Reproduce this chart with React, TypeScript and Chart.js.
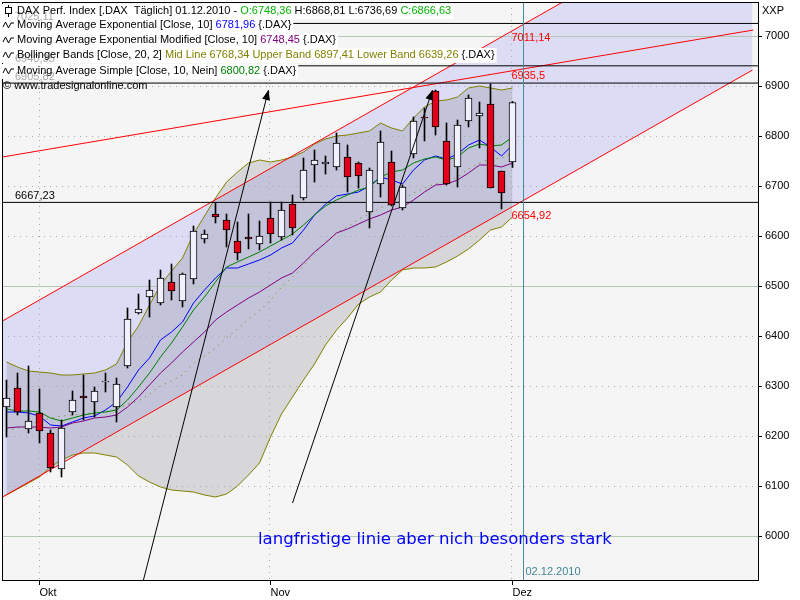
import React, { useEffect, useRef } from 'react';
import { Chart, registerables } from 'chart.js';

Chart.register(...registerables);

// ---------- data ----------
const opens = [6258,6296,6214,6246,6206,6134,6248,6280,6268,6308,6258,6340,6446,6478,6466,6508,6470,6514,6594,6644,6632,6590,6598,6584,6636,6598,6664,6676,6742,6744,6738,6758,6746,6648,6704,6748,6656,6764,6838,6890,6790,6738,6830,6840,6864,6730,6748];
const highs = [6312,6326,6340,6294,6212,6232,6290,6322,6298,6326,6316,6456,6484,6512,6532,6544,6526,6620,6612,6666,6644,6628,6644,6630,6668,6668,6682,6756,6772,6760,6806,6782,6748,6736,6810,6770,6702,6838,6856,6892,6826,6832,6882,6868,6904,6730,6869];
const lows = [6198,6242,6206,6186,6128,6118,6242,6232,6238,6288,6228,6336,6444,6438,6462,6472,6458,6504,6586,6626,6578,6552,6574,6572,6586,6592,6602,6672,6708,6724,6732,6688,6696,6616,6678,6660,6652,6756,6790,6802,6702,6698,6818,6776,6696,6654,6737];
const closes = [6276,6248,6230,6210,6136,6216,6272,6276,6290,6310,6304,6434,6454,6492,6516,6490,6524,6610,6604,6638,6612,6566,6594,6600,6604,6652,6616,6732,6752,6748,6786,6718,6720,6732,6788,6662,6698,6830,6836,6818,6704,6822,6876,6846,6696,6686,6867];

const emaValues = [6248,6248,6246,6240,6222,6220,6228,6236,6240,6252,6268,6298,6332,6356,6392,6408,6428,6466,6492,6516,6536,6536,6544,6552,6562,6576,6586,6612,6642,6664,6680,6684,6688,6700,6718,6712,6704,6732,6752,6760,6754,6764,6782,6792,6778,6760,6782];
const smaValues = [6254,6250,6250,6248,6236,6230,6236,6242,6246,6248,6252,6272,6298,6326,6358,6386,6418,6452,6478,6508,6538,6548,6558,6568,6580,6592,6604,6622,6642,6660,6672,6682,6692,6698,6718,6728,6732,6746,6754,6758,6752,6758,6776,6784,6780,6782,6798];
const emaModValues = [6216,6218,6218,6218,6216,6218,6226,6230,6236,6238,6242,6258,6278,6302,6326,6346,6368,6388,6408,6432,6448,6462,6476,6488,6502,6516,6526,6546,6568,6586,6606,6614,6624,6634,6642,6652,6658,6672,6688,6702,6704,6712,6726,6742,6742,6738,6746];
const bbMid = [6210,6216,6222,6230,6236,6240,6242,6244,6246,6248,6252,6264,6270,6284,6300,6310,6322,6346,6360,6376,6396,6414,6434,6450,6472,6498,6518,6540,6564,6588,6606,6618,6634,6644,6656,6664,6672,6686,6696,6704,6710,6718,6734,6746,6754,6756,6766];
const bbUpper = [6348,6338,6330,6328,6326,6322,6322,6324,6326,6332,6344,6388,6420,6462,6502,6530,6556,6604,6640,6676,6708,6728,6746,6752,6748,6752,6758,6768,6784,6794,6800,6802,6806,6810,6826,6816,6810,6836,6858,6870,6872,6878,6896,6900,6896,6892,6896];
const bbLower = [6082,6094,6106,6118,6138,6152,6162,6166,6166,6162,6158,6142,6120,6108,6098,6092,6090,6088,6082,6078,6084,6100,6122,6146,6198,6244,6278,6312,6344,6382,6412,6436,6464,6478,6488,6512,6532,6536,6536,6538,6548,6560,6574,6592,6612,6618,6638];

// trend lines (bar index, value)
const channelUpper = [{ x: -0.364, y: 6430 }, { x: 67.82, y: 7284 }];
const channelLower = [{ x: -0.364, y: 6078 }, { x: 67.82, y: 6932 }];
const channelMiddle = [{ x: -0.364, y: 6758 }, { x: 67.9, y: 7012 }];
const channelLabelValues = [7011.14, 6935.5, 6654.92];
const hLineValues = [7025.11, 6940.35, 6905.82, 6667.23];
const arrow1 = [{ x: 12.45, y: 5912 }, { x: 23.82, y: 6892 }];
const arrow2 = [{ x: 26.0, y: 6066 }, { x: 38.73, y: 6892 }];
const cursorIndex = 47;
const cursorLabel = '02.12.2010';

const monthTicks = [3, 24, 46];
const monthLabels = ['Okt', 'Nov', 'Dez'];
const yTicks = [6000, 6100, 6200, 6300, 6400, 6500, 6600, 6700, 6800, 6900, 7000];
const Y_MIN = 5912;
const Y_MAX = 7068;
const X_MIN = -4.5 / 11;
const X_MAX = X_MIN + 756 / 11;

const legendRows: [string, string][][] = [
  [['DAX Perf. Index [.DAX  Täglich] 01.12.2010 - ', '#000'], ['O:6748,36', '#00b400'], [' H:6868,81 L:6736,69 ', '#000'], ['C:6866,63', '#00b400']],
  [['Moving Average Exponential [Close, 10] ', '#000'], ['6781,96', '#0000ff'], [' {.DAX}', '#000']],
  [['Moving Average Exponential Modified [Close, 10] ', '#000'], ['6748,45', '#800080'], [' {.DAX}', '#000']],
  [['Bollinger Bands [Close, 20, 2] ', '#000'], ['Mid Line 6768,34 Upper Band 6897,41 Lower Band 6639,26', '#808000'], [' {.DAX}', '#000']],
  [['Moving Average Simple [Close, 10, Nein] ', '#000'], ['6800,82', '#008000'], [' {.DAX}', '#000']],
];
const copyrightText = '© www.tradesignalonline.com';
const noteText = 'langfristige linie aber nich besonders stark';

const FONT = '"Liberation Sans", Arial, sans-serif';
Chart.defaults.font.family = FONT;
Chart.defaults.font.size = 11;
Chart.defaults.color = '#000';

const pts = (arr: number[]) => arr.map((v, i) => ({ x: i, y: v }));
const comma = (v: number) => String(v).replace('.', ',');

function line(data: any[], color: string, order: number, extra: any = {}) {
  return {
    type: 'line', data, borderColor: color, borderWidth: 1, pointRadius: 0,
    fill: false, tension: 0, order, ...extra,
  };
}

const zeroPad = (s: any) => { s.paddingTop = 0; s.paddingBottom = 0; s.paddingLeft = 0; s.paddingRight = 0; };

export default function App() {
  const ref = useRef<HTMLCanvasElement>(null);

  useEffect(() => {
    const canvas = ref.current!;
    const TRANSP = 'rgba(0,0,0,0)';

    const datasets: any[] = [
      line(channelUpper, TRANSP, 105, { borderWidth: 0 }),
      line(channelLower, TRANSP, 104, { borderWidth: 0, fill: '-1', backgroundColor: '#dcdcf5' }),
      line(pts(bbUpper), TRANSP, 95, { borderWidth: 0 }),
      line(pts(bbLower), TRANSP, 94, { borderWidth: 0, fill: '-1', backgroundColor: 'rgba(95,95,110,0.2)' }),
      line(pts(bbUpper), '#808000', 80),
      line(pts(bbLower), '#808000', 80),
      line(pts(bbMid), '#808000', 70, { borderDash: [1, 5] }),
      line(pts(emaModValues), '#800080', 60),
      line(pts(smaValues), '#008000', 60),
      line(pts(emaValues), '#0000ff', 60),
      line(channelUpper, '#ff0000', 50),
      line(channelMiddle, '#ff0000', 50),
      line(channelLower, '#ff0000', 50),
      ...hLineValues.map((v) => line([{ x: X_MIN, y: v }, { x: X_MAX, y: v }], '#000', 45)),
      line([{ x: cursorIndex, y: Y_MIN - 50 }, { x: cursorIndex, y: Y_MAX + 50 }], '#4a8c9c', 44),
      {
        type: 'bar', order: 20, grouped: false, barThickness: 1, borderWidth: 0,
        backgroundColor: '#000',
        data: highs.map((h, i) => ({ x: i, y: [lows[i], h] })),
      },
      {
        type: 'bar', order: 10, grouped: false, barThickness: 7, borderWidth: 1,
        borderSkipped: false, borderColor: '#000',
        backgroundColor: opens.map((o, i) => (closes[i] >= o ? '#f0f0fe' : '#e2001a')),
        data: opens.map((o, i) => ({ x: i, y: [o, closes[i]] })),
      },
      line(arrow1, '#000', 5),
      line(arrow2, '#000', 5),
    ];

    const bgPlugin = {
      id: 'bg',
      beforeDraw(chart: any) {
        const { ctx, chartArea: a } = chart;
        ctx.save();
        ctx.fillStyle = '#fff';
        ctx.fillRect(0, 0, chart.width, chart.height);
        ctx.fillStyle = '#f5f5f5';
        ctx.fillRect(a.left, a.top, a.right - a.left, a.bottom - a.top);
        ctx.restore();
      },
    };

    const gridPlugin = {
      id: 'grid',
      afterDatasetDraw(chart: any, args: any) {
        if (args.index !== 3) return;
        const { ctx, chartArea: a, scales } = chart;
        const xs = scales.x, ys = scales.y;
        ctx.save();
        ctx.lineWidth = 1;
        yTicks.forEach((v) => {
          const py = Math.round(ys.getPixelForValue(v)) + 0.5;
          if (v % 500 === 0) { ctx.setLineDash([]); ctx.strokeStyle = '#b3c7b3'; }
          else { ctx.setLineDash([1, 5]); ctx.strokeStyle = '#a9a9a9'; }
          ctx.beginPath(); ctx.moveTo(a.left, py); ctx.lineTo(a.right, py); ctx.stroke();
        });
        ctx.setLineDash([1, 5]); ctx.strokeStyle = '#a9a9a9';
        monthTicks.forEach((t) => {
          const px = Math.round(xs.getPixelForValue(t)) - 0.5;
          ctx.beginPath(); ctx.moveTo(px, a.top); ctx.lineTo(px, a.bottom); ctx.stroke();
        });
        ctx.restore();
      },
    };

    const overlayPlugin = {
      id: 'overlay',
      afterDatasetsDraw(chart: any) {
        const { ctx, scales } = chart;
        const xs = scales.x, ys = scales.y;
        ctx.save();
        ctx.fillStyle = '#000';
        [arrow1, arrow2].forEach((arr) => {
          const p0 = { x: xs.getPixelForValue(arr[0].x), y: ys.getPixelForValue(arr[0].y) };
          const p1 = { x: xs.getPixelForValue(arr[1].x), y: ys.getPixelForValue(arr[1].y) };
          const ang = Math.atan2(p1.y - p0.y, p1.x - p0.x);
          const L = 10, W = 4;
          const bx = p1.x - L * Math.cos(ang), by = p1.y - L * Math.sin(ang);
          ctx.beginPath();
          ctx.moveTo(p1.x, p1.y);
          ctx.lineTo(bx + W * Math.sin(ang), by - W * Math.cos(ang));
          ctx.lineTo(bx - W * Math.sin(ang), by + W * Math.cos(ang));
          ctx.closePath();
          ctx.fill();
        });
        ctx.restore();
      },
    };

    const textPlugin = {
      id: 'texts',
      afterDraw(chart: any) {
        const { ctx, chartArea: a, scales } = chart;
        const xs = scales.x, ys = scales.y;
        ctx.save();
        // plot border
        ctx.strokeStyle = '#000'; ctx.lineWidth = 1;
        ctx.strokeRect(a.left + 0.5, a.top + 0.5, a.right - a.left, a.bottom - a.top);

        ctx.font = `11px ${FONT}`;
        ctx.textBaseline = 'top';
        // channel value labels
        ctx.fillStyle = '#ff0000';
        const cx = xs.getPixelForValue(cursorIndex);
        channelLabelValues.forEach((v) => {
          ctx.fillText(comma(v), cx - 12, ys.getPixelForValue(v) + 2);
        });
        // cursor date
        ctx.fillStyle = '#3f8595';
        ctx.textBaseline = 'middle';
        ctx.fillText(cursorLabel, cx + 2, a.bottom - 8);
        // XXP
        ctx.fillStyle = '#000';
        ctx.fillText('XXP', a.right + 4, 11);

        // note text
        ctx.fillStyle = '#0000ff';
        ctx.font = `18px "DejaVu Sans", sans-serif`;
        const w18 = ctx.measureText(noteText).width;
        const size = 18 * 354 / w18;
        ctx.font = `${size.toFixed(2)}px "DejaVu Sans", sans-serif`;
        ctx.textBaseline = 'middle';
        ctx.fillText(noteText, 258, 540);

        // legend boxes
        ctx.font = `11px ${FONT}`;
        const rowY = [11, 25, 40, 55, 71];
        legendRows.forEach((row, r) => {
          const total = row.reduce((s, seg) => s + ctx.measureText(seg[0]).width, 0);
          ctx.fillStyle = '#ffffff';
          ctx.fillRect(2, rowY[r] - 7, 17 + total, 15);
        });

        // horizontal line labels
        ctx.textBaseline = 'bottom';
        hLineValues.forEach((v) => {
          const py = ys.getPixelForValue(v);
          ctx.fillStyle = py < 95 ? '#a8a8a8' : '#000';
          ctx.fillText(v.toFixed(2).replace('.', ','), a.left + 13, py - 1);
        });

        // legend text
        ctx.textBaseline = 'middle';
        legendRows.forEach((row, r) => {
          const cy = rowY[r];
          let x = 17;
          row.forEach(([t, c]) => {
            ctx.fillStyle = c;
            ctx.fillText(t, x, cy);
            x += ctx.measureText(t).width;
          });
          ctx.strokeStyle = '#000';
          ctx.fillStyle = '#000';
          if (r === 0) {
            ctx.beginPath(); ctx.moveTo(8.5, cy - 6); ctx.lineTo(8.5, cy + 6); ctx.stroke();
            ctx.fillStyle = '#fff';
            ctx.fillRect(5.5, cy - 3.5, 6, 6);
            ctx.strokeRect(5.5, cy - 3.5, 6, 6);
          } else {
            ctx.beginPath();
            ctx.moveTo(3, cy + 2); ctx.lineTo(5.5, cy - 3); ctx.lineTo(8.5, cy + 3); ctx.lineTo(11, cy - 2); ctx.lineTo(14, cy - 2);
            ctx.stroke();
          }
        });
        ctx.fillStyle = '#000';
        ctx.fillText(copyrightText, 3, 86);
        ctx.restore();
      },
    };

    const chart = new Chart(canvas, {
      type: 'bar',
      data: { datasets },
      options: {
        responsive: false,
        animation: false,
        events: [],
        devicePixelRatio: 1,
        layout: { padding: { left: 2, top: 2, right: 0, bottom: 0 } },
        plugins: { legend: { display: false }, tooltip: { enabled: false } },
        scales: {
          x: {
            type: 'linear', min: X_MIN, max: X_MAX, offset: false,
            grid: { drawOnChartArea: false, drawTicks: true, tickLength: 5, tickColor: '#000', offset: false },
            border: { display: false },
            afterBuildTicks: (s: any) => { s.ticks = monthTicks.map((v) => ({ value: v })); },
            afterFit: (s: any) => { s.height = 20; zeroPad(s); },
            ticks: {
              autoSkip: false, maxRotation: 0, align: 'start', padding: 1,
              callback: (_v: any, i: number) => monthLabels[i],
              font: { size: 11 }, color: '#000',
            },
          },
          y: {
            type: 'linear', position: 'right', min: Y_MIN, max: Y_MAX, beginAtZero: false,
            grid: { drawOnChartArea: false, drawTicks: true, tickLength: 4, tickColor: '#000' },
            border: { display: false },
            afterBuildTicks: (s: any) => { s.ticks = yTicks.map((v) => ({ value: v })); },
            afterFit: (s: any) => { s.width = 42; zeroPad(s); },
            ticks: { padding: 3, font: { size: 11 }, color: '#000', callback: (v: any) => String(v) },
          },
        },
      } as any,
      plugins: [bgPlugin, gridPlugin, overlayPlugin, textPlugin],
    } as any);

    return () => chart.destroy();
  }, []);

  return (
    <div style={{ position: 'fixed', left: 0, top: 0, width: 800, height: 600, background: '#fff' }}>
      <canvas ref={ref} width={800} height={600} style={{ display: 'block', width: 800, height: 600 }} />
    </div>
  );
}
